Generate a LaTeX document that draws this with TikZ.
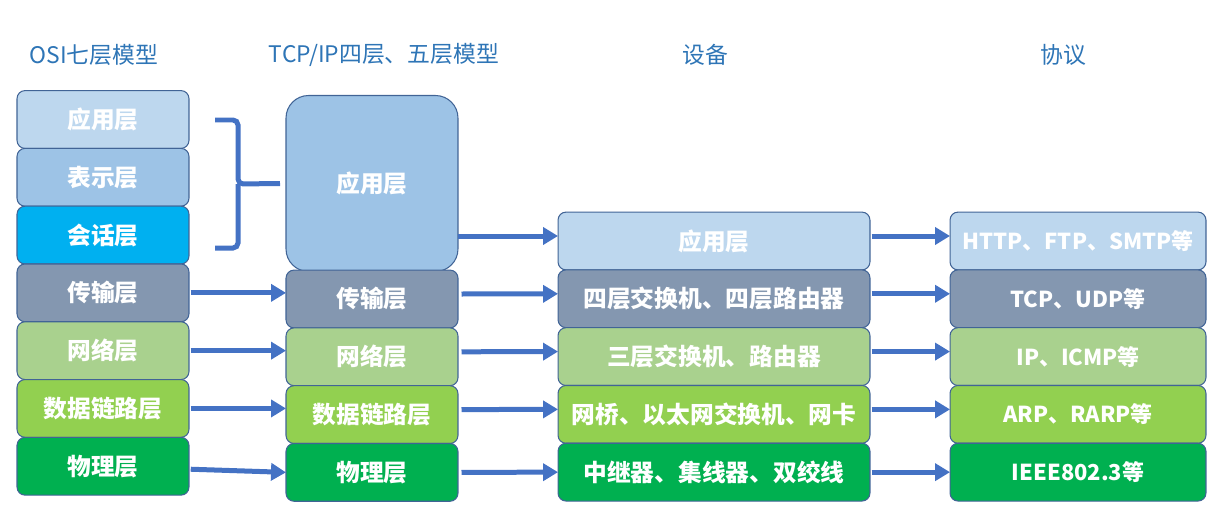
\documentclass[tikz,border=0pt]{standalone}
\usepackage{fontspec}
\setmainfont{Noto Sans CJK SC}
\usetikzlibrary{arrows.meta, positioning}
\definecolor{titleblue}{RGB}{46,117,182}
\definecolor{arrowblue}{RGB}{68,114,196}
\definecolor{edgeblue}{RGB}{65,100,150}
\definecolor{appblue}{RGB}{189,215,238}
\definecolor{presblue}{RGB}{157,195,230}
\definecolor{sessblue}{RGB}{0,176,240}
\definecolor{transgray}{RGB}{132,151,176}
\definecolor{netgreen}{RGB}{169,209,142}
\definecolor{linkgreen}{RGB}{146,208,80}
\definecolor{physgreen}{RGB}{0,176,80}

\begin{document}
\begin{tikzpicture}[
    x=0.02cm, y=-0.02cm,
    node distance=0pt,
    title/.style={text=titleblue, font=\fontsize{13}{15}\selectfont},
    layer/.style={rectangle, rounded corners=0.16cm, draw=edgeblue, line width=0.6pt,
                  text=white, font=\fontsize{13.5}{16}\selectfont\bfseries,
                  minimum height=1.156cm, inner sep=0pt, outer sep=0pt},
    osi/.style={layer, minimum width=3.44cm},
    dev/.style={layer, minimum width=6.24cm},
    proto/.style={layer, minimum width=5.12cm, font=\fontsize{12.5}{15}\selectfont\bfseries},
    arrow/.style={-{Triangle[length=0.3cm, width=0.34cm]}, line width=0.1cm, draw=arrowblue},
    brace/.style={line width=0.1cm, draw=arrowblue, rounded corners=0.1cm}
]
\useasboundingbox (0,0) rectangle (1227,527);

% column titles
\node (osititle) [title] at (94,55) {OSI七层模型};
\node (tcptitle) [title] at (384,55) {TCP/IP四层、五层模型};
\node (devtitle) [title] at (705,55) {设备};
\node (prototitle) [title] at (1063,55) {协议};

% OSI seven layers
\node (osiapp) [osi, fill=appblue] at (103,119.5) {应用层};
\node (osipres) [osi, fill=presblue, below=of osiapp] {表示层};
\node (osisess) [osi, fill=sessblue, below=of osipres] {会话层};
\node (ositrans) [osi, fill=transgray, below=of osisess] {传输层};
\node (osinet) [osi, fill=netgreen, below=of ositrans] {网络层};
\node (osilink) [osi, fill=linkgreen, below=of osinet] {数据链路层};
\node (osiphys) [osi, fill=physgreen, below=of osilink] {物理层};

% TCP/IP layers
\node (tcpapp) [layer, fill=presblue, minimum width=3.44cm, minimum height=3.52cm,
                rounded corners=0.45cm] at (372,183.5) {应用层};
\node (tcptrans) [osi, fill=transgray] at (372,299) {传输层};
\node (tcpnet) [osi, fill=netgreen, below=of tcptrans] {网络层};
\node (tcplink) [osi, fill=linkgreen, below=of tcpnet] {数据链路层};
\node (tcpphys) [osi, fill=physgreen, below=of tcplink] {物理层};

% devices
\node (devapp) [dev, fill=appblue] at (714,241) {应用层};
\node (devtrans) [dev, fill=transgray, below=of devapp] {四层交换机、四层路由器};
\node (devnet) [dev, fill=netgreen, below=of devtrans] {三层交换机、路由器};
\node (devlink) [dev, fill=linkgreen, below=of devnet] {网桥、以太网交换机、网卡};
\node (devphys) [dev, fill=physgreen, below=of devlink] {中继器、集线器、双绞线};

% protocols
\node (protoapp) [proto, fill=appblue] at (1078,241) {HTTP、FTP、SMTP等};
\node (prototrans) [proto, fill=transgray, below=of protoapp] {TCP、UDP等};
\node (protonet) [proto, fill=netgreen, below=of prototrans] {IP、ICMP等};
\node (protolink) [proto, fill=linkgreen, below=of protonet] {ARP、RARP等};
\node (protophys) [proto, fill=physgreen, below=of protolink] {IEEE802.3等};

% brace joining the upper three OSI layers
\coordinate (bracetip) at (tcpapp.west);
\draw [brace] (215,120) -- (238,120) -- (238,184) -- (bracetip -| 280,0);
\draw [brace] (215,248) -- (238,248) -- (238,184);

% OSI -> TCP/IP
\draw [arrow] ([xshift=1pt]ositrans.east) -- (ositrans.east -| tcptrans.west);
\draw [arrow] ([xshift=1pt]osinet.east) -- (osinet.east -| tcpnet.west);
\draw [arrow] ([xshift=1pt]osilink.east) -- (osilink.east -| tcplink.west);
\draw [arrow] ([xshift=1pt,yshift=-1.7pt]osiphys.east) -- (tcpphys.west);

% TCP/IP -> devices
\draw [arrow] ([yshift=1mm]devapp.west -| tcpapp.east) -- ([yshift=1mm]devapp.west);
\draw [arrow] ([xshift=2pt,yshift=1mm]tcptrans.east) -- ([yshift=1mm]devtrans.west);
\draw [arrow] ([xshift=2pt,yshift=1mm]tcpnet.east) -- ([yshift=1mm]devnet.west);
\draw [arrow] ([xshift=2pt,yshift=1mm]tcplink.east) -- ([yshift=1mm]devlink.west);
\draw [arrow] ([xshift=2pt]tcpphys.east) -- (devphys.west);

% devices -> protocols
\draw [arrow] ([xshift=1pt,yshift=1mm]devapp.east) -- ([yshift=1mm]protoapp.west);
\draw [arrow] ([xshift=1pt,yshift=1mm]devtrans.east) -- ([yshift=1mm]prototrans.west);
\draw [arrow] ([xshift=1pt,yshift=1mm]devnet.east) -- ([yshift=1mm]protonet.west);
\draw [arrow] ([xshift=1pt,yshift=1mm]devlink.east) -- ([yshift=1mm]protolink.west);
\draw [arrow] ([xshift=1pt]devphys.east) -- (protophys.west);

\end{tikzpicture}
\end{document}
